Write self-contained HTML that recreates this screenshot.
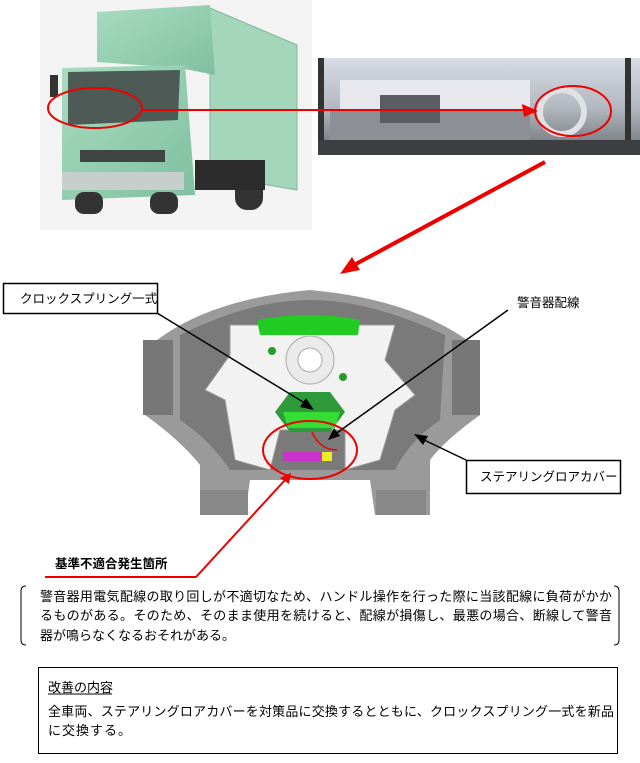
<!DOCTYPE html>
<html><head><meta charset="utf-8"><style>
body{margin:0;background:#fff;}
svg{display:block}
text{font-family:"Liberation Sans","Noto Sans CJK JP",sans-serif;fill:#000}
</style></head><body>
<svg width="640" height="763" viewBox="0 0 640 763" xmlns="http://www.w3.org/2000/svg">
<defs>
<linearGradient id="tg" x1="0" y1="0" x2="1" y2="1"><stop offset="0" stop-color="#a8dcc0"/><stop offset="1" stop-color="#7fbfa0"/></linearGradient>
<linearGradient id="dg" x1="0" y1="0" x2="0" y2="1"><stop offset="0" stop-color="#d8dce4"/><stop offset="0.5" stop-color="#b4b8c0"/><stop offset="1" stop-color="#6a6e74"/></linearGradient>
</defs>
<!-- truck photo -->
<rect x="40" y="0" width="272" height="230" fill="#f3f3f3"/>
<path d="M210 8 L297 45 L297 190 L210 175 Z" fill="#a3d6ba" stroke="#7fb79a"/>
<path d="M97 12 L210 5 L215 75 L180 68 L97 62 Z" fill="url(#tg)"/>
<path d="M62 68 L185 65 L195 195 L62 200 Z" fill="url(#tg)"/>
<path d="M68 72 L180 70 L178 120 L68 125 Z" fill="#4e5a56"/>
<rect x="80" y="150" width="85" height="12" fill="#3e4441"/>
<rect x="62" y="172" width="122" height="18" fill="#c6cfcc"/>
<rect x="75" y="192" width="28" height="22" rx="9" fill="#333"/>
<rect x="150" y="192" width="28" height="22" rx="9" fill="#333"/>
<rect x="235" y="170" width="28" height="40" rx="12" fill="#333"/>
<rect x="195" y="160" width="70" height="30" fill="#2c2c2c"/>
<rect x="50" y="75" width="8" height="22" fill="#333"/>
<!-- dash photo -->
<rect x="318" y="58" width="322" height="97" fill="url(#dg)"/>
<rect x="340" y="80" width="190" height="30" fill="#e6e8ee"/>
<rect x="330" y="110" width="200" height="35" fill="#8c9096"/>
<rect x="380" y="95" width="60" height="28" fill="#5a5e64"/>
<circle cx="562" cy="112" r="22" fill="none" stroke="#dfe1e4" stroke-width="6"/>
<rect x="318" y="58" width="6" height="97" fill="#333"/>
<rect x="625" y="58" width="6" height="97" fill="#333"/>
<rect x="318" y="140" width="322" height="15" fill="#3c3e42"/>
<!-- ellipses & arrows -->
<ellipse cx="95" cy="108" rx="47" ry="20" fill="none" stroke="#e00" stroke-width="2"/>
<ellipse cx="573" cy="111" rx="38" ry="25" fill="none" stroke="#e00" stroke-width="2"/>
<line x1="142" y1="110" x2="525" y2="110" stroke="#e00" stroke-width="2"/>
<polygon points="538,111 522,104 524,117" fill="#e00"/>
<line x1="545" y1="162" x2="354" y2="265" stroke="#e00" stroke-width="4"/>
<polygon points="340,274 352,257 360,270" fill="#e00"/>
<!-- steering wheel -->
<path d="M145 350 Q200 300 310 290 Q420 300 480 350 L480 415 Q445 440 430 460 L430 515 L375 515 L370 480 L250 480 L245 515 L200 515 L200 465 Q180 440 145 415 Z" fill="#9a9a9a"/>
<path d="M180 335 Q250 300 310 300 Q370 300 445 335 L440 420 Q410 440 395 470 L230 470 Q210 440 180 420 Z" fill="#7a7a7a"/>
<path d="M230 325 L395 325 L385 360 L415 395 L395 410 L380 460 L345 470 L345 430 L280 430 L270 470 L235 460 L225 400 L205 390 L230 355 Z" fill="#f2f2f2" stroke="#999"/>
<path d="M257 320 Q310 310 360 320 L358 335 L260 335 Z" fill="#22cc22"/>
<circle cx="310" cy="360" r="24" fill="#eaeaea" stroke="#aaa"/>
<circle cx="310" cy="360" r="12" fill="#fff" stroke="#aaa"/>
<circle cx="272" cy="351" r="4" fill="#2a9a2a"/><circle cx="343" cy="377" r="4" fill="#2a9a2a"/>
<path d="M290 392 L330 392 L345 412 L330 432 L290 432 L275 412 Z" fill="#2f9a3a"/>
<path d="M283 412 L340 412 L335 428 L288 428 Z" fill="#33dd33"/>
<rect x="283" y="452" width="40" height="9" fill="#cc33cc"/>
<rect x="322" y="452" width="10" height="9" fill="#eeee22"/>
<path d="M312 432 Q320 450 337 450" fill="none" stroke="#e00" stroke-width="1.5"/>
<rect x="143" y="340" width="30" height="75" fill="#777"/>
<rect x="452" y="340" width="28" height="75" fill="#777"/>
<rect x="200" y="490" width="48" height="25" fill="#888"/>
<rect x="376" y="490" width="50" height="25" fill="#888"/>
<ellipse cx="310" cy="450" rx="47" ry="29" fill="none" stroke="#e00" stroke-width="2"/>
<!-- labels -->
<rect x="3.5" y="283.5" width="154" height="30" fill="#fff" stroke="#000" stroke-width="1.5"/>
<text x="20" y="303" font-size="12.5">クロックスプリング一式</text>
<line x1="157" y1="313" x2="308" y2="405" stroke="#000" stroke-width="1.5"/>
<polygon points="314,410 300,407 306,398" fill="#000"/>
<text x="517" y="307" font-size="12.5">警音器配線</text>
<line x1="508" y1="310" x2="334" y2="435" stroke="#000" stroke-width="1.5"/>
<polygon points="328,440 334,428 340,436" fill="#000"/>
<rect x="466.5" y="460.5" width="154" height="33" fill="#fff" stroke="#000" stroke-width="1.5"/>
<text x="480" y="481" font-size="12.5">ステアリングロアカバー</text>
<line x1="466" y1="460" x2="420" y2="438" stroke="#000" stroke-width="1.5"/>
<polygon points="414,434 428,436 423,445" fill="#000"/>
<!-- red callout -->
<text x="55" y="568" font-size="12.5" font-weight="bold">基準不適合発生箇所</text>
<polyline points="45,577 196,577 285,480" fill="none" stroke="#e00" stroke-width="2"/>
<polygon points="291,473 280,478 289,484" fill="#e00"/>
<!-- bracket paragraph -->
<path d="M26 586 Q21 586 21 591 L21 640 Q21 645 26 645" fill="none" stroke="#000"/>
<path d="M614 586 Q619 586 619 591 L619 640 Q619 645 614 645" fill="none" stroke="#000"/>
<text font-size="13"><tspan x="40" y="601" textLength="572" lengthAdjust="spacing">警音器用電気配線の取り回しが不適切なため、ハンドル操作を行った際に当該配線に負荷がかか</tspan></text>
<text font-size="13"><tspan x="40" y="620" textLength="572" lengthAdjust="spacing">るものがある。そのため、そのまま使用を続けると、配線が損傷し、最悪の場合、断線して警音</tspan></text>
<text font-size="13"><tspan x="40" y="640" textLength="195" lengthAdjust="spacing">器が鳴らなくなるおそれがある。</tspan></text>
<!-- box -->
<rect x="38.5" y="667.5" width="579" height="86" fill="none" stroke="#000"/>
<text x="48" y="692" font-size="13">改善の内容</text>
<line x1="48" y1="694" x2="112" y2="694" stroke="#000"/>
<text font-size="13"><tspan x="48" y="716" textLength="566" lengthAdjust="spacing">全車両、ステアリングロアカバーを対策品に交換するとともに、クロックスプリング一式を新品</tspan></text>
<text font-size="13"><tspan x="48" y="735" textLength="83" lengthAdjust="spacing">に交換する。</tspan></text>
</svg>
</body></html>
